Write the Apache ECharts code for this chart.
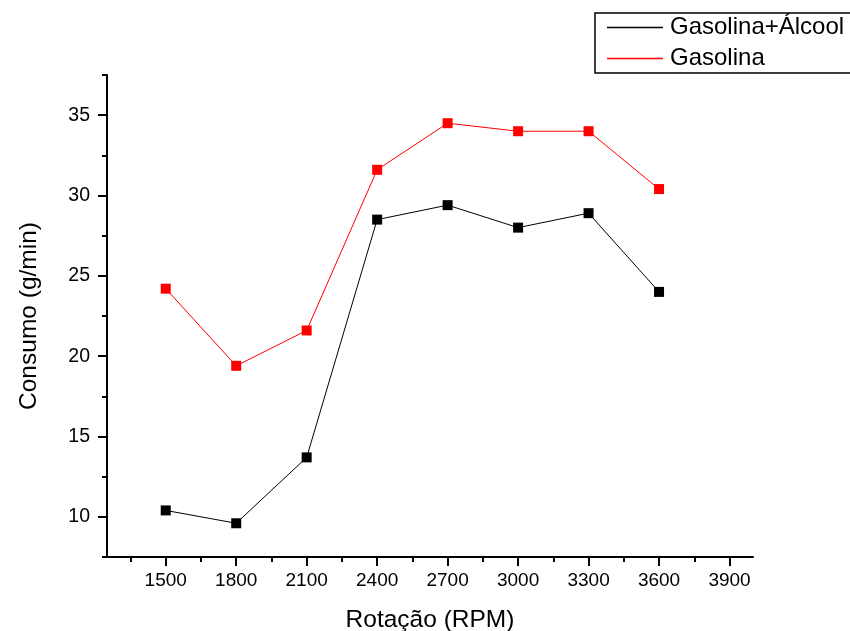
<!DOCTYPE html>
<html>
<head>
<meta charset="utf-8">
<script src="https://cdn.jsdelivr.net/npm/echarts@6/dist/echarts.min.js"></script>
<style>
  html, body { margin: 0; padding: 0; background: #fff; }
  #chart { width: 850px; height: 631px; }
</style>
</head>
<body>
<div id="chart"></div>
<script>
// dados
var rpm = [1500, 1800, 2100, 2400, 2700, 3000, 3300, 3600];
var gasAlcool = [10.4, 9.6, 13.7, 28.5, 29.4, 28.0, 28.9, 24.0];
var gasolina = [24.2, 19.4, 21.6, 31.6, 34.5, 34.0, 34.0, 30.4];

var xTicks = [1500, 1800, 2100, 2400, 2700, 3000, 3300, 3600, 3900];
var xMinor = [1350, 1650, 1950, 2250, 2550, 2850, 3150, 3450, 3750];
var yTicks = [10, 15, 20, 25, 30, 35];
var yMinor = [7.5, 12.5, 17.5, 22.5, 27.5, 32.5, 37.5];

function pares(xs, ys) {
    var out = [];
    for (var i = 0; i < xs.length; i++) out.push([xs[i], ys[i]]);
    return out;
}

var fonte = 'Liberation Sans, Arial, sans-serif';

var option = {
    animation: false,
    backgroundColor: '#fff',
    grid: {
        left: 107,
        right: 97,
        top: 75,
        bottom: 74,
        containLabel: false,
        outerBoundsMode: 'none'
    },
    legend: {
        orient: 'vertical',
        left: 595,
        top: 13,
        padding: [2, 40, 2, 12],
        itemGap: 6,
        itemWidth: 56,
        itemHeight: 1.5,
        borderColor: '#000',
        borderWidth: 1.5,
        textStyle: {
            fontFamily: fonte,
            fontSize: 24,
            lineHeight: 25,
            color: '#000',
            padding: [0, 0, 0, 2]
        },
        data: [
            { name: 'Gasolina+Álcool', icon: 'rect' },
            { name: 'Gasolina', icon: 'rect' }
        ]
    },
    xAxis: [{
        type: 'value',
        min: 1250,
        max: 4000,
        name: 'Rotação (RPM)',
        nameLocation: 'middle',
        nameGap: 51,
        nameTextStyle: { fontFamily: fonte, fontSize: 24.5, color: '#000' },
        axisLine: { lineStyle: { color: '#000', width: 2 } },
        axisTick: {
            customValues: xTicks,
            length: 9,
            lineStyle: { color: '#000', width: 2 }
        },
        axisLabel: {
            customValues: xTicks,
            margin: 14,
            fontFamily: fonte,
            fontSize: 19,
            color: '#000',
            formatter: function (v) { return String(v); }
        },
        splitLine: { show: false }
    }, {
        type: 'value',
        min: 1250,
        max: 4000,
        position: 'bottom',
        axisLine: { show: false },
        axisTick: {
            customValues: xMinor,
            length: 5,
            lineStyle: { color: '#000', width: 2 }
        },
        axisLabel: { show: false },
        splitLine: { show: false }
    }],
    yAxis: [{
        type: 'value',
        min: 7.5,
        max: 37.5,
        name: 'Consumo (g/min)',
        nameLocation: 'middle',
        nameGap: 65,
        nameTextStyle: { fontFamily: fonte, fontSize: 24.5, color: '#000' },
        axisLine: { show: true, lineStyle: { color: '#000', width: 2 } },
        axisTick: {
            show: true,
            customValues: yTicks,
            length: 9,
            lineStyle: { color: '#000', width: 2 }
        },
        axisLabel: {
            customValues: yTicks,
            margin: 17,
            fontFamily: fonte,
            fontSize: 19.5,
            color: '#000'
        },
        splitLine: { show: false }
    }, {
        type: 'value',
        min: 7.5,
        max: 37.5,
        position: 'left',
        axisLine: { show: false },
        axisTick: {
            show: true,
            customValues: yMinor,
            length: 5,
            lineStyle: { color: '#000', width: 2 }
        },
        axisLabel: { show: false },
        splitLine: { show: false }
    }],
    series: [{
        name: 'Gasolina+Álcool',
        type: 'line',
        xAxisIndex: 0,
        yAxisIndex: 0,
        symbol: 'rect',
        symbolSize: 10,
        color: '#000',
        lineStyle: { color: '#000', width: 1 },
        itemStyle: { color: '#000' },
        data: pares(rpm, gasAlcool)
    }, {
        name: 'Gasolina',
        type: 'line',
        xAxisIndex: 0,
        yAxisIndex: 0,
        symbol: 'rect',
        symbolSize: 10,
        color: '#ff0000',
        lineStyle: { color: '#ff0000', width: 1 },
        itemStyle: { color: '#ff0000' },
        data: pares(rpm, gasolina)
    }]
};

var chart = echarts.init(document.getElementById('chart'));
chart.setOption(option);
</script>
</body>
</html>
